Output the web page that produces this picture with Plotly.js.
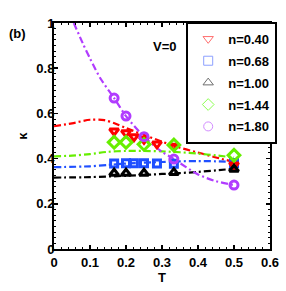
<!DOCTYPE html>
<html>
<head>
<meta charset="utf-8">
<script src="https://cdn.plot.ly/plotly-3.0.1.min.js"></script>
<style>html,body{margin:0;padding:0;background:#fff;}#chart{width:286px;height:291px;}</style>
</head>
<body>
<div id="chart"></div>
<script>
// ---- data ----
const seriesNames = ['n=0.40', 'n=0.68', 'n=1.00', 'n=1.44', 'n=1.80'];

// markers
const T_040 = [0.167, 0.2, 0.222, 0.25, 0.286, 0.333, 0.5];
const K_040 = [0.522, 0.514, 0.497, 0.485, 0.465, 0.455, 0.372];
const T_068 = [0.167, 0.2, 0.222, 0.25, 0.286, 0.333, 0.5];
const K_068 = [0.378, 0.379, 0.379, 0.379, 0.378, 0.377, 0.380];
const T_100 = [0.167, 0.2, 0.25, 0.333, 0.5];
const K_100 = [0.335, 0.335, 0.335, 0.338, 0.353];
const T_144 = [0.167, 0.2, 0.25, 0.333, 0.5];
const K_144 = [0.472, 0.472, 0.463, 0.460, 0.415];
const T_180 = [0.167, 0.2, 0.25, 0.333, 0.5];
const K_180 = [0.668, 0.588, 0.497, 0.398, 0.283];

// fitted dash-dot curves
const fitT_040 = [0, 0.05, 0.1, 0.14, 0.175, 0.2, 0.25, 0.3, 0.35, 0.4, 0.45, 0.5];
const fitK_040 = [0.543, 0.556, 0.572, 0.570, 0.552, 0.535, 0.505, 0.475, 0.448, 0.427, 0.405, 0.385];
const fitT_068 = [0, 0.1, 0.15, 0.2, 0.3, 0.35, 0.4, 0.45, 0.5];
const fitK_068 = [0.362, 0.366, 0.372, 0.378, 0.385, 0.388, 0.389, 0.388, 0.386];
const fitT_100 = [0, 0.1, 0.2, 0.3, 0.35, 0.4, 0.45, 0.5];
const fitK_100 = [0.316, 0.318, 0.324, 0.332, 0.336, 0.341, 0.348, 0.355];
const fitT_144 = [0, 0.05, 0.1, 0.15, 0.2, 0.25, 0.3, 0.35, 0.4, 0.45, 0.5];
const fitK_144 = [0.41, 0.413, 0.42, 0.43, 0.434, 0.434, 0.432, 0.428, 0.422, 0.414, 0.405];
const fitT_180 = [0.055, 0.08, 0.1, 0.13, 0.167, 0.2, 0.25, 0.3, 0.333, 0.4, 0.45, 0.5];
const fitK_180 = [1.0, 0.91, 0.843, 0.752, 0.668, 0.588, 0.497, 0.43, 0.398, 0.33, 0.30, 0.283];

const xTickVals = [0, 0.1, 0.2, 0.3, 0.4, 0.5, 0.6];
const yTickVals = [0, 0.2, 0.4, 0.6, 0.8, 1];

// ---- styles ----
const colors = ['#ff0000', '#1f4fff', '#000000', '#66ee00', '#b13cff'];
const legendColors = ['#ff6e6e', '#8da0ff', '#6e6e6e', '#8cff50', '#d28cff'];
const symbols = ['triangle-down-open', 'square-open', 'triangle-up-open', 'diamond-open', 'circle-open'];
const sizes = [8, 7, 8, 9, 8];
const dashPat = '7px,3px,2px,3px';
const FONT = 'Liberation Sans, Arial, sans-serif';

const fits = [[fitT_040, fitK_040], [fitT_068, fitK_068], [fitT_100, fitK_100], [fitT_144, fitK_144], [fitT_180, fitK_180]];
const pts = [[T_040, K_040], [T_068, K_068], [T_100, K_100], [T_144, K_144], [T_180, K_180]];

const traces = [];
fits.forEach((f, i) => {
  traces.push({x: f[0], y: f[1], mode: 'lines', type: 'scatter', showlegend: false, hoverinfo: 'skip',
    line: {color: colors[i], width: 2.2, dash: dashPat, shape: 'spline', smoothing: 0.8}});
});
const order = [1, 0, 3, 2, 4];
order.forEach(i => {
  traces.push({x: pts[i][0], y: pts[i][1], mode: 'markers', type: 'scatter', showlegend: false,
    marker: {symbol: symbols[i], size: sizes[i], color: colors[i], line: {width: 3, color: colors[i]}}});
});
seriesNames.forEach((nm, i) => {
  traces.push({x: [null], y: [null], mode: 'markers', type: 'scatter', name: nm, legendgroup: 'g' + i,
    marker: {symbol: symbols[i], size: 9, color: legendColors[i], line: {width: 1, color: legendColors[i]}}});
});

const axisCommon = {
  showline: true, linewidth: 2, linecolor: '#000', mirror: 'ticks', showgrid: false, zeroline: false,
  ticks: 'inside', ticklen: 4, tickwidth: 1.5, tickcolor: '#000',
  tickfont: {family: FONT, size: 13, color: '#000', weight: 'bold'},
  automargin: false
};

const layout = {
  width: 286, height: 291,
  margin: {l: 54, r: 16, t: 23, b: 42, autoexpand: false},
  paper_bgcolor: '#fff', plot_bgcolor: '#fff',
  xaxis: Object.assign({}, axisCommon, {
    range: [0, 0.6], tickmode: 'array', tickvals: xTickVals,
    minor: {ticks: 'inside', ticklen: 2, tickwidth: 1, dtick: 0.02, tickcolor: '#000'},
    title: {text: 'T', font: {family: FONT, size: 13, color: '#000', weight: 'bold'}, standoff: 0}
  }),
  yaxis: Object.assign({}, axisCommon, {
    range: [0, 1], tickmode: 'array', tickvals: yTickVals, ticklabelstandoff: -5,
    minor: {ticks: 'inside', ticklen: 2, tickwidth: 1, dtick: 0.025, tickcolor: '#000'},
    title: {text: 'κ', font: {family: FONT, size: 13, color: '#000', weight: 'bold'}, standoff: 6}
  }),
  showlegend: true,
  legend: {x: 0.612, y: 1.005, xanchor: 'left', yanchor: 'top', bgcolor: '#fff', bordercolor: '#000', borderwidth: 2,
    font: {family: FONT, size: 13, color: '#000', weight: 'bold'}, tracegroupgap: 2, itemwidth: 30},
  annotations: [
    {text: '(b)', xref: 'paper', yref: 'paper', x: -0.171, y: 0.953, xanchor: 'center', yanchor: 'middle', showarrow: false,
      font: {family: FONT, size: 13, color: '#000', weight: 'bold'}},
    {text: 'V=0', xref: 'paper', yref: 'paper', x: 0.514, y: 0.894, xanchor: 'center', yanchor: 'middle', showarrow: false,
      font: {family: FONT, size: 13, color: '#000', weight: 'bold'}}
  ]
};

Plotly.newPlot('chart', traces, layout, {displayModeBar: false, staticPlot: true});
</script>
</body>
</html>
